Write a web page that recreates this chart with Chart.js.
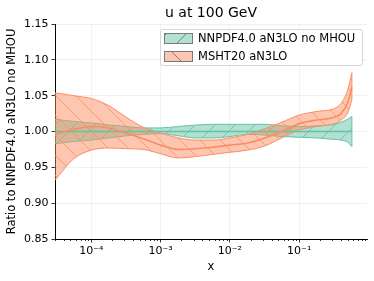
<!DOCTYPE html>
<html><head><meta charset="utf-8">
<script src="https://cdn.jsdelivr.net/npm/chart.js@4"></script>
<style>html,body{margin:0;padding:0;background:#fff;}</style>
</head><body>
<canvas id="c" width="374" height="281" style="width:374px;height:281px;display:block"></canvas>
<script>
const xValues      = [3e-5, 5.6e-5, 1e-4, 1.8e-4, 3.2e-4, 5.6e-4, 1e-3, 1.8e-3, 3.2e-3, 5.6e-3, 1e-2, 1.8e-2, 3.2e-2, 5.6e-2, 0.1, 0.18, 0.32, 0.4, 0.5, 0.575];
const nnpdfCentral = [1, 1, 1, 1, 1, 1, 1, 1, 1, 1, 1, 1, 1, 1, 1, 1, 1, 1, 1, 1];
const nnpdfUpper   = [1.017, 1.014, 1.012, 1.009, 1.007, 1.005, 1.005, 1.007, 1.009, 1.010, 1.010, 1.010, 1.010, 1.008, 1.007, 1.008, 1.010, 1.013, 1.017, 1.021];
const nnpdfLower   = [0.983, 0.986, 0.988, 0.991, 0.994, 0.996, 0.997, 0.994, 0.991, 0.991, 0.993, 0.996, 0.995, 0.993, 0.992, 0.991, 0.989, 0.988, 0.985, 0.979];
const mshtCentral  = [0.996, 1.003, 1.007, 1.005, 0.998, 0.990, 0.981, 0.975, 0.976, 0.978, 0.981, 0.984, 0.991, 1.000, 1.011, 1.016, 1.020, 1.025, 1.040, 1.062];
const mshtUpper    = [1.054, 1.050, 1.046, 1.036, 1.020, 1.006, 0.998, 0.991, 0.988, 0.988, 0.991, 0.996, 1.004, 1.013, 1.023, 1.028, 1.032, 1.039, 1.058, 1.082];
const mshtLower    = [0.932, 0.962, 0.974, 0.977, 0.976, 0.975, 0.969, 0.963, 0.965, 0.968, 0.971, 0.974, 0.980, 0.991, 1.002, 1.007, 1.011, 1.016, 1.026, 1.044];
const yTicks       = [0.85, 0.90, 0.95, 1.00, 1.05, 1.10, 1.15];
const xMajorTicks  = [1e-4, 1e-3, 1e-2, 1e-1];
const xTickLabels  = ['10\u207B\u2074', '10\u207B\u00B3', '10\u207B\u00B2', '10\u207B\u00B9'];
const seriesNames  = ['NNPDF4.0 aN3LO no MHOU', 'MSHT20 aN3LO'];
const titleText    = 'u at 100 GeV';

const GREEN = '#66c2a5', ORANGE = '#fc8d62';
const FONT = "'DejaVu Sans', sans-serif";
const canvas = document.getElementById('c');
const ctx = canvas.getContext('2d');

function hatch(fill, line, dir, s) {
  const c = document.createElement('canvas'); c.width = s; c.height = s;
  const g = c.getContext('2d');
  g.fillStyle = fill; g.fillRect(0, 0, s, s);
  g.strokeStyle = line; g.lineWidth = 0.9;
  g.beginPath();
  if (dir === '/') {
    g.moveTo(-1, s + 1); g.lineTo(s + 1, -1);
    g.moveTo(-1, 1); g.lineTo(1, -1);
    g.moveTo(s - 1, s + 1); g.lineTo(s + 1, s - 1);
  } else {
    g.moveTo(-1, -1); g.lineTo(s + 1, s + 1);
    g.moveTo(s - 1, -1); g.lineTo(s + 1, 1);
    g.moveTo(-1, s - 1); g.lineTo(1, s + 1);
  }
  g.stroke();
  return ctx.createPattern(c, 'repeat');
}
const greenPat = hatch('rgba(102,194,165,0.5)', 'rgba(102,194,165,0.95)', '/', 20);
const orangePat = hatch('rgba(252,141,98,0.5)', 'rgba(252,141,98,0.85)', '\\', 20);
const greenLeg = hatch('rgba(102,194,165,0.5)', 'rgba(110,110,110,0.9)', '/', 20);
const orangeLeg = hatch('rgba(252,141,98,0.5)', 'rgba(110,110,110,0.9)', '\\', 20);

const pts = arr => arr.map((y, i) => ({x: xValues[i], y}));
const last = xValues.length - 1;
const isMajor = v => Math.abs(Math.log10(v) - Math.round(Math.log10(v))) < 1e-6;

const base = {pointRadius: 0, pointHoverRadius: 0, cubicInterpolationMode: 'monotone', fill: false};
const seg = {pointRadius: 0, pointHoverRadius: 0, tension: 0, fill: false};
const datasets = [
  {...base, data: pts(nnpdfUpper), borderColor: GREEN, borderWidth: 1, order: 60},
  {...base, data: pts(nnpdfLower), borderColor: GREEN, borderWidth: 1, fill: '-1', backgroundColor: greenPat, order: 59},
  {...base, data: pts(mshtUpper), borderColor: ORANGE, borderWidth: 1, order: 50},
  {...base, data: pts(mshtLower), borderColor: ORANGE, borderWidth: 1, fill: '-1', backgroundColor: orangePat, order: 49},
  {...base, data: pts(nnpdfCentral), borderColor: GREEN, borderWidth: 1.6, order: 40},
  {...base, data: pts(mshtCentral), borderColor: ORANGE, borderWidth: 1.6, order: 30},
  {...seg, data: [{x: xValues[last], y: nnpdfLower[last]}, {x: xValues[last], y: nnpdfUpper[last]}], borderColor: GREEN, borderWidth: 1, order: 20},
  {...seg, data: [{x: xValues[last], y: mshtLower[last]}, {x: xValues[last], y: mshtUpper[last]}], borderColor: ORANGE, borderWidth: 1, order: 20}
];

const overlay = {
  id: 'overlay',
  afterDraw(chart) {
    const c = chart.ctx, a = chart.chartArea, xs = chart.scales.x;
    c.save();
    c.strokeStyle = '#000'; c.lineWidth = 0.8;
    for (let n = -5; n <= 0; n++) for (let k = 2; k <= 9; k++) {
      const v = k * Math.pow(10, n);
      if (v < xs.min || v > xs.max) continue;
      const px = Math.round(xs.getPixelForValue(v)) + 0.5;
      c.beginPath(); c.moveTo(px, a.bottom); c.lineTo(px, a.bottom + 2); c.stroke();
    }
    c.fillStyle = '#000'; c.font = '14px ' + FONT; c.textAlign = 'center'; c.textBaseline = 'middle';
    c.fillText(titleText, (a.left + a.right) / 2, 13.5);
    const L = 160.5, T = 29.5, W = 202, H = 36;
    c.beginPath();
    c.roundRect(L, T, W, H, 2.5);
    c.fillStyle = 'rgba(255,255,255,0.85)'; c.fill();
    c.strokeStyle = '#d6d6d6'; c.lineWidth = 1; c.stroke();
    const rows = [[greenLeg, 33.5], [orangeLeg, 51.5]];
    rows.forEach(([pat, y], i) => {
      c.fillStyle = '#fff'; c.fillRect(164.5, y, 28, 10);
      c.fillStyle = pat; c.fillRect(164.5, y, 28, 10);
      c.strokeStyle = '#7a7a7a'; c.lineWidth = 1; c.strokeRect(164.5, y, 28, 10);
      c.fillStyle = '#000'; c.font = '11.5px ' + FONT; c.textAlign = 'left'; c.textBaseline = 'middle';
      c.fillText(seriesNames[i], 198, y + 5.5);
    });
    c.restore();
  }
};

new Chart(ctx, {
  type: 'line',
  data: {datasets},
  plugins: [overlay],
  options: {
    responsive: false, animation: false, devicePixelRatio: 1,
    layout: {padding: {top: 24, right: 7, left: 0, bottom: 0}},
    plugins: {legend: {display: false}, tooltip: {enabled: false}, title: {display: false}},
    scales: {
      x: {
        type: 'logarithmic', min: 3e-5, max: 0.95,
        afterFit(s) { s.height = 42; },
        afterBuildTicks(s) {
          const t = [];
          for (let n = -5; n <= 0; n++) for (let k = 1; k <= 9; k++) {
            const v = k * Math.pow(10, n);
            if (v >= s.min && v <= s.max) t.push({value: v});
          }
          s.ticks = t;
        },
        ticks: {
          autoSkip: false, maxRotation: 0, minRotation: 0, padding: 2,
          color: '#000', font: {family: FONT, size: 11},
          callback(v) { const i = xMajorTicks.findIndex(m => Math.abs(m - v) / m < 1e-6); return i >= 0 ? xTickLabels[i] : ''; }
        },
        grid: {
          color: c => (c.tick && isMajor(c.tick.value)) ? 'rgba(0,0,0,0.07)' : 'rgba(0,0,0,0)',
          tickColor: c => (c.tick && isMajor(c.tick.value)) ? '#000' : 'rgba(0,0,0,0)',
          tickLength: 3.5, lineWidth: 0.8, tickWidth: 0.8
        },
        border: {display: true, color: '#000', width: 1},
        title: {display: true, text: 'x', color: '#000', font: {family: FONT, size: 11.5}, padding: {top: 0, bottom: 7}}
      },
      y: {
        type: 'linear', min: 0.85, max: 1.15,
        afterFit(s) { s.width = 55; },
        afterBuildTicks(s) { s.ticks = yTicks.map(v => ({value: v})); },
        ticks: {color: '#000', font: {family: FONT, size: 11}, padding: 3, callback: v => v.toFixed(2)},
        grid: {color: 'rgba(0,0,0,0.07)', tickColor: '#000', tickLength: 3.5, lineWidth: 0.8, tickWidth: 0.8},
        border: {display: true, color: '#000', width: 1},
        title: {display: true, text: 'Ratio to NNPDF4.0 aN3LO no MHOU', color: '#000', font: {family: FONT, size: 11.5}, padding: {top: 5.5, bottom: 0}}
      }
    }
  }
});
</script>
</body></html>
